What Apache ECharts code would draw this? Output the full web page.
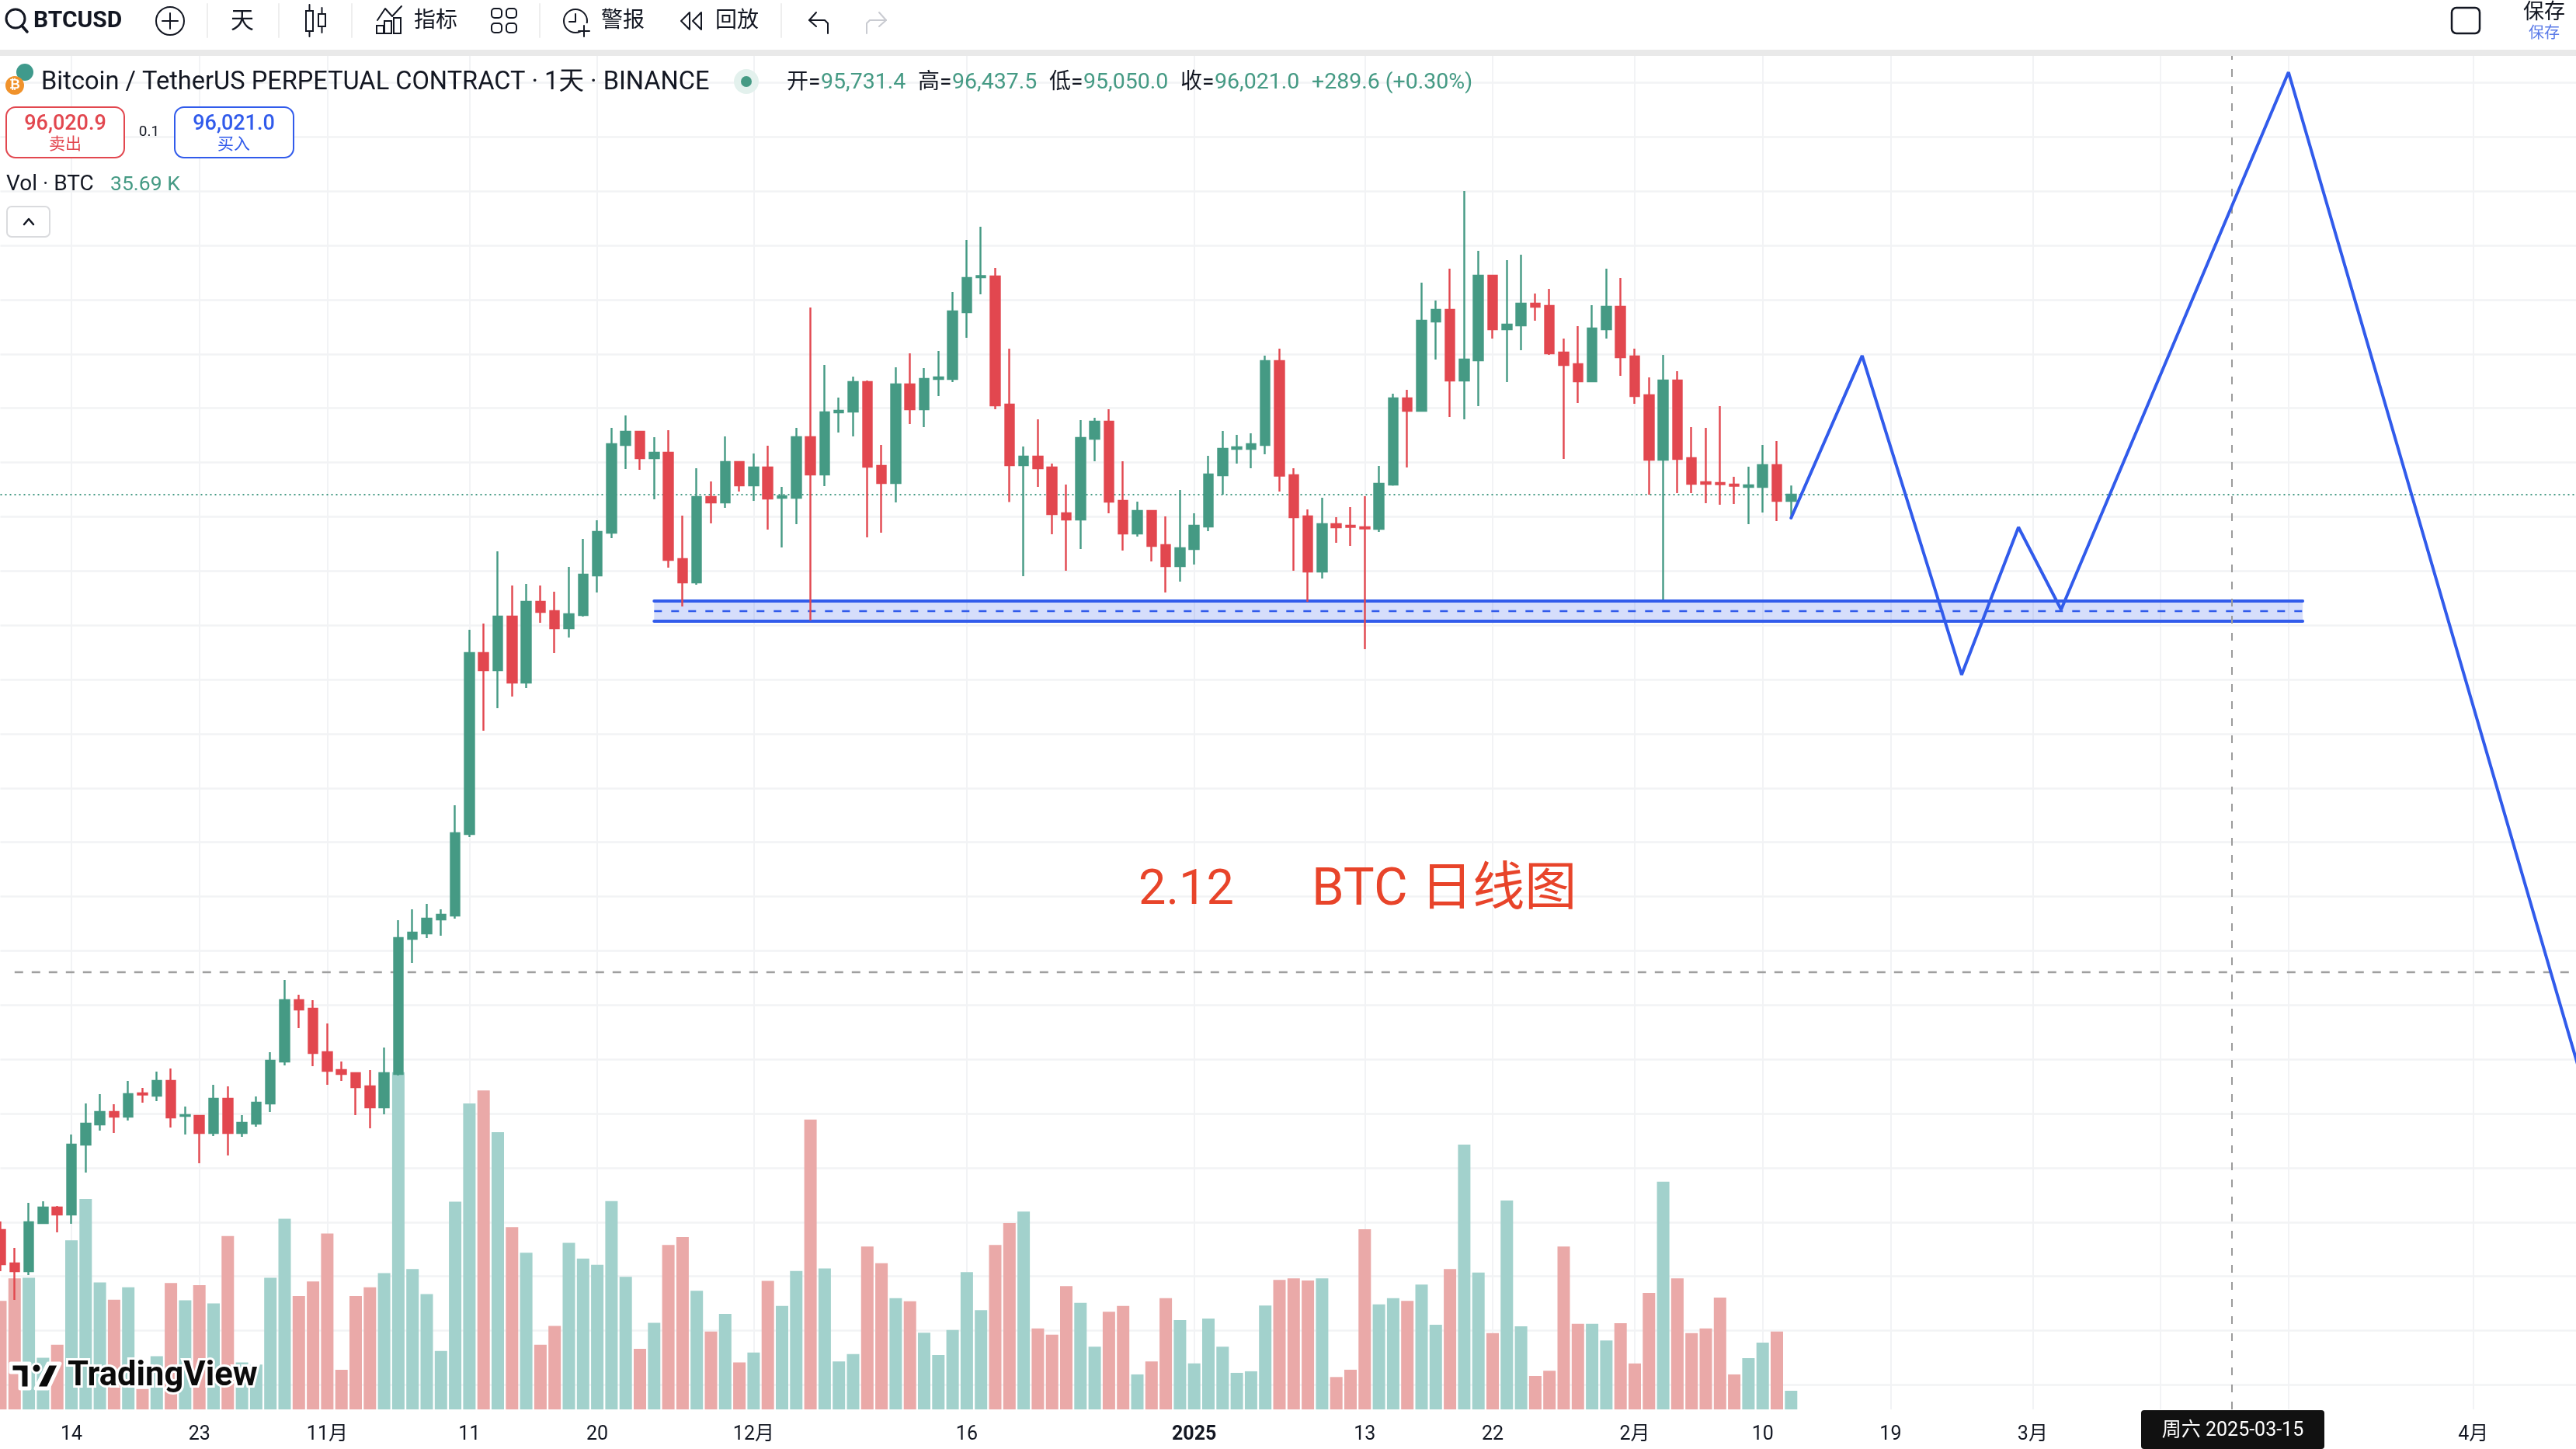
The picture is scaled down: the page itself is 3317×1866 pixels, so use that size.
<!DOCTYPE html>
<html><head><meta charset="utf-8"><title>BTC 日线图</title>
<style>html,body{margin:0;padding:0;background:#fff}#c{width:3317px;height:1866px}</style>
<script src="https://cdn.jsdelivr.net/npm/echarts@6/dist/echarts.min.js"></script></head>
<body><div id="c"></div>
<script>
// Daily candles from 2024-10-09: [open, close, low, high]
const candles = [
[62136,60562,60240,62530],[60598,60240,58916,61314],[60240,62494,60061,63389],[62459,63174,62459,63460],[63174,62852,62029,63246],
[62852,66072,62423,66537],[66072,67038,64784,67969],[67003,67575,66716,68398],[67575,67360,66609,67933],[67360,68398,67181,69006],
[68434,68380,68004,68684],[68326,69006,68076,69436],[69006,67325,66859,69579],[67396,67432,66537,67826],[67396,66609,65214,67432],
[66609,68183,66466,68827],[68183,66609,65571,68756],[66609,67074,66430,67432],[67038,68004,66895,68291],[67969,69937,67575,70330],
[69901,72727,69722,73658],[72727,72298,71439,72978],[72334,70294,69686,72727],[70330,69471,68827,71654],[69507,69328,69006,69901],
[69364,68720,67432,69400],[68756,67790,66824,69507],[67790,69364,67468,70545],[69328,75590,69257,76413],[75554,75840,74445,76914],
[75804,76484,75590,77164],[76448,76663,75697,76914],[76627,80420,76484,81708],[80384,88721,80241,89794],[88721,87934,85143,90081],
[87934,90403,86181,93408],[90403,87361,86717,91834],[87361,91082,87111,91905],[91082,90617,90116,91834],[90653,89866,88721,91548],
[89866,90510,89437,92693],[90474,92335,90403,93981],[92299,94303,91512,94839],[94267,98346,94016,99097],[98310,98918,97201,99670],
[98918,97702,97165,98918],[97702,97952,95805,98668],[97952,93015,92657,98990],[93051,91977,90868,95054],[91977,95913,91870,97237],
[95913,95662,94696,96628],[95662,97523,95412,98704],[97523,96450,96163,97523],[96450,97272,95734,97916],[97272,95841,94410,98274],
[95877,95949,93587,96378],[95877,98668,94661,99097],[98668,96950,90224,104643],[96950,99813,96414,101995],[99813,99884,98883,100493],
[99848,101208,98704,101459],[101208,97308,94052,101280],[97344,96557,94267,98310],[96557,101101,95662,101888],[101101,99956,99276,102532],
[99956,101351,99133,101852],[101351,101423,100564,102639],[101351,104464,101208,105359],[104428,106003,103248,107756],[106039,106092,105251,108364],
[106074,100135,99956,106468],[100171,97380,95680,102747],[97380,97773,92263,98239],[97773,97237,96378,99491],[97272,95126,94195,97451],
[95162,94875,92514,96485],[94875,98632,93516,99455],[98596,99383,97559,99562],[99383,95698,95162,99956],[95734,94231,93444,97559],
[94231,95269,94088,95698],[95269,93659,92943,95305],[93695,92728,91512,95018],[92728,93551,92013,96235],[93516,94589,92800,95162],
[94553,96950,94338,97809],[96914,98131,96021,98954],[98131,98203,97451,98775],[98131,98346,97237,98847],[98310,102174,97881,102425],
[102174,96896,96163,102747],[96914,94982,92514,97237],[95018,92478,91082,95340],[92478,94661,92156,95877],[94661,94517,93802,94982],
[94589,94535,93659,95448],[94517,94463,88900,95949],[94445,96521,94303,97344],[96485,100457,96432,100672],[100457,99884,97272,100850],
[99884,104035,99884,105788],[103999,104536,102246,104965],[104536,101280,99598,106432],[101280,102246,99491,110010],[102210,106110,100099,107255],
[106110,103641,103212,106110],[103641,103856,101208,106826],[103820,104822,102675,107076],[104822,104679,104035,105287],[104715,102532,102461,105502],
[102568,101995,97666,103212],[102031,101244,100242,103784],[101244,103677,101244,104750],[103641,104679,103212,106432],[104679,102353,101494,106003],
[102389,100564,100206,102747],[100600,97630,96021,101423],[97630,101280,91190,102461],[101280,97666,96092,101709],[97702,96521,96092,99133],
[96593,96521,95627,99097],[96557,96503,95555,100099],[96485,96432,95591,96843],[96378,96450,94661,97308],[96378,97380,95197,98310],
[97380,95731,94804,98489],[95731.4,96021,95050,96437.5]
];
// Volume in thousand BTC, same days
const volumes = [
208,251,252,99,124,324,403,243,210,234,39,102,242,209,238,203,332,90,86,252,365,217,245,337,76,217,234,261,646,269,221,112,398,586,611,531,349,300,124,160,
319,289,277,399,254,116,166,315,330,227,149,183,90,109,246,198,265,555,270,92,106,312,280,213,207,147,104,152,263,190,315,357,379,155,143,236,204,120,187,198,
67,92,213,171,88,174,120,70,73,199,248,251,247,251,62,76,345,201,213,208,239,162,269,507,262,146,400,159,64,74,312,164,164,132,165,88,223,436,251,146,155,214,67,98,128,149,35.69
];
const firstDay = '2024-10-09', lastDay = '2025-04-09';
const tickDates  = ['2024-10-14','2024-10-23','2024-11-01','2024-11-11','2024-11-20','2024-12-01','2024-12-16','2025-01-01','2025-01-13','2025-01-22','2025-02-01','2025-02-10','2025-02-19','2025-03-01','2025-03-10','2025-03-19','2025-04-01'];
const tickLabels = ['14','23','11月','11','20','12月','16','2025','13','22','2月','10','19','3月','10','19','4月'];
const projectionPath = [['2025-02-12',94947],['2025-02-17',102419],['2025-02-24',87719],['2025-02-28',94517],['2025-03-03',90725],['2025-03-19',115484],['2025-04-09',68291]];
const zoneDates = ['2024-11-24','2025-03-20'];
const zoneTop = 91118, zoneMid = 90653, zoneBottom = 90188;
const lastPrice = 96021.0;
const resistance = 74015, resistanceStart = '2024-10-10';
const crosshairDate = '2025-03-15';

const days = [];
for (let t = Date.parse(firstDay + 'T00:00:00Z'); t <= Date.parse(lastDay + 'T00:00:00Z'); t += 86400000) days.push(new Date(t).toISOString().slice(0, 10));

const UP = '#459A84', DOWN = '#E2474F', UPV = '#A2D1CC', DOWNV = '#EAA9A8', BLUE = '#315BEB', INK = '#131722', GRID = '#F2F3F5';
const FONT = 'Roboto, "Noto Sans CJK SC", sans-serif';
const band = 18.3, left = 0.5, gridW = band * (days.length - 1);
const isTick = (i, v) => tickDates.includes(v);

const vis = [];
const T = (text, x, y, size, fill, opt = {}) => vis.push({ type: 'text', z: 100, silent: true, style: { text, x, y, fill, font: `${opt.weight || 400} ${size}px ${FONT}`, textAlign: opt.align || 'left', textVerticalAlign: 'middle', stroke: opt.stroke, lineWidth: opt.lw || 0 } });
const R = (x, y, w, h, fill, stroke, lw, r) => vis.push({ type: 'rect', z: 99, silent: true, shape: { x, y, width: w, height: h, r: r || 0 }, style: { fill: fill || 'transparent', stroke, lineWidth: lw || 0 } });
const C = (cx, cy, r, fill, stroke, lw) => vis.push({ type: 'circle', z: 99, silent: true, shape: { cx, cy, r }, style: { fill: fill || 'transparent', stroke, lineWidth: lw || 0 } });
const P = (points, stroke, lw, fill) => vis.push({ type: fill ? 'polygon' : 'polyline', z: 100, silent: true, shape: { points }, style: { stroke, lineWidth: lw, fill: fill || 'transparent', lineCap: 'round', lineJoin: 'round' } });

// toolbar
R(0, 0, 3317, 64, '#fff');
R(0, 64, 3317, 8, '#E9E9E9');
C(20, 24, 12, null, INK, 3); P([[28, 33], [35, 41]], INK, 3.5);
T('BTCUSD', 43, 27, 30, INK, { weight: 700 });
C(219, 27, 18, null, INK, 2); P([[209, 27], [229, 27]], INK, 2); P([[219, 17], [219, 37]], INK, 2);
[267, 359, 453, 695, 1006].forEach(x => P([[x, 5], [x, 48]], '#EEEEEE', 2));
T('天', 312, 28, 30, INK, { align: 'center' });
R(394, 14, 9, 26, null, INK, 2); P([[398.5, 6], [398.5, 14]], INK, 2); P([[398.5, 40], [398.5, 47]], INK, 2);
R(410, 18, 9, 16, null, INK, 2); P([[414.5, 10], [414.5, 18]], INK, 2); P([[414.5, 34], [414.5, 42]], INK, 2);
P([[486, 26], [496, 11], [505, 21], [517, 8]], INK, 2);
R(485, 33, 9, 10, null, INK, 2); R(495, 27, 9, 16, null, INK, 2); R(507, 23, 9, 20, null, INK, 2);
T('指标', 533, 28, 28, INK);
[[633, 11], [652, 11], [633, 30], [652, 30]].forEach(p => R(p[0], p[1], 13, 12, null, INK, 2, 4));
C(741, 27, 15, null, INK, 2); P([[741, 18], [741, 28], [733, 28]], INK, 2);
R(748, 30, 14, 18, '#fff'); P([[752, 33], [752, 47]], INK, 2); P([[745, 40], [759, 40]], INK, 2);
T('警报', 774, 28, 28, INK);
P([[888, 16], [877, 27], [888, 38], [888, 16]], INK, 2); P([[903, 16], [892, 27], [903, 38], [903, 16]], INK, 2);
T('回放', 921, 28, 28, INK);
P([[1066, 43], [1066, 30], [1062, 26], [1042, 26], [1051, 16]], INK, 2); P([[1042, 26], [1051, 34]], INK, 2);
P([[1116, 43], [1116, 30], [1120, 26], [1141, 26], [1132, 16]], '#C9CBD1', 2); P([[1141, 26], [1132, 34]], '#C9CBD1', 2);
R(3157, 10, 36, 33, null, INK, 2.5, 6);
T('保存', 3276, 17, 27, INK, { align: 'center' });
T('保存', 3276, 44, 20, '#5B7BE8', { align: 'center' });

// symbol header
C(32, 93, 11, '#3F9A8C'); C(19, 110, 12, '#F0922B');
T('₿', 19, 110, 17, '#fff', { align: 'center', weight: 700 });
T('Bitcoin / TetherUS PERPETUAL CONTRACT · 1天 · BINANCE', 53, 107, 32.6, INK);
C(961, 105, 16, '#E3F1ED'); C(961, 105, 7, UP);
const ohlcLabels = [['开=', 1013], ['高=', 1182], ['低=', 1351], ['收=', 1520]];
const ohlcValues = [['95,731.4', 1057], ['96,437.5', 1226], ['95,050.0', 1395], ['96,021.0', 1564], ['+289.6 (+0.30%)', 1689]];
ohlcLabels.forEach(a => T(a[0], a[1], 107, 28, INK));
ohlcValues.forEach(a => T(a[0], a[1], 107, 28.5, UP));
R(8, 138, 152, 65, '#fff', DOWN, 2, 12);
T('96,020.9', 84, 160, 27, DOWN, { align: 'center', weight: 500 }); T('卖出', 84, 187, 21, DOWN, { align: 'center' });
T('0.1', 192, 170, 19, INK, { align: 'center' });
R(225, 138, 153, 65, '#fff', BLUE, 2, 12);
T('96,021.0', 301, 160, 27, BLUE, { align: 'center', weight: 500 }); T('买入', 301, 187, 21, BLUE, { align: 'center' });
T('Vol · BTC', 8, 238, 28, INK); T('35.69 K', 142, 238, 26.5, UP);
R(9, 266, 55, 39, '#fff', '#DADBDE', 2, 6);
P([[31, 289], [37, 282], [43, 289]], INK, 2.5);

// annotation
T('2.12', 1466, 1148, 63, '#E8442A');
T('BTC 日线图', 1689, 1148, 67, '#E8442A');

// watermark
P([[14, 1756], [38, 1756], [38, 1788], [26, 1788], [26, 1767], [14, 1767]], '#fff', 5, '#0B0B0B');
C(47, 1762, 6, '#0B0B0B', '#fff', 3);
P([[62, 1756], [77, 1756], [62, 1788], [46, 1788]], '#fff', 5, '#0B0B0B');
T('TradingView', 87, 1773, 43.5, '#0B0B0B', { weight: 700, stroke: '#fff', lw: 6 });

// crosshair date badge
R(2757, 1816, 236, 50, '#111111', null, 0, 4);
T('周六 2025-03-15', 2875, 1843, 25, '#fff', { align: 'center' });

const pair = (a, b, v) => [[a, v], [b, v]];
const chart = echarts.init(document.getElementById('c'), null, { width: 3317, height: 1866, renderer: 'canvas' });
chart.setOption({
  animation: false,
  backgroundColor: '#fff',
  textStyle: { fontFamily: FONT },
  grid: [
    { left, width: gridW, top: 36.6, height: 69.875 * 25, outerBoundsMode: 'none' },
    { left, width: gridW, top: 36.6, height: 1815 - 36.6, outerBoundsMode: 'none' }
  ],
  xAxis: [
    { type: 'category', gridIndex: 0, data: days, boundaryGap: false, axisLine: { show: false }, axisTick: { show: false }, axisLabel: { show: false }, splitLine: { show: false } },
    { type: 'category', gridIndex: 1, data: days, boundaryGap: false, axisLine: { show: false }, axisTick: { show: false },
      splitLine: { show: true, interval: isTick, lineStyle: { color: GRID, width: 2 } },
      axisLabel: { interval: isTick, margin: 20, fontSize: 25, color: INK, fontFamily: FONT, hideOverlap: false,
        formatter: v => { const s = tickLabels[tickDates.indexOf(v)]; return s === '2025' ? '{b|2025}' : s; },
        rich: { b: { fontWeight: 700, fontSize: 25, color: INK, fontFamily: FONT } } } }
  ],
  yAxis: [
    { type: 'value', gridIndex: 0, min: 55000, max: 117500, interval: 2500, scale: true, axisLine: { show: false }, axisTick: { show: false }, axisLabel: { show: false }, splitLine: { show: true, lineStyle: { color: GRID, width: 2.5 } } },
    { type: 'value', gridIndex: 1, min: 0, max: 2645, show: false, splitLine: { show: false } }
  ],
  series: [
    { type: 'bar', name: 'Vol', xAxisIndex: 1, yAxisIndex: 1, barWidth: 16, z: 1,
      data: volumes.map((v, i) => ({ value: v, itemStyle: { color: candles[i][1] >= candles[i][0] ? UPV : DOWNV } })) },
    { type: 'line', name: 'crosshair', xAxisIndex: 1, yAxisIndex: 1, data: [], z: 2,
      markLine: { silent: true, symbol: 'none', label: { show: false }, animation: false, lineStyle: { color: '#9B9B9B', type: [10, 12], width: 2 }, data: [{ xAxis: crosshairDate }] } },
    { type: 'line', name: 'resistance', data: pair(resistanceStart, lastDay, resistance), showSymbol: false, silent: true, z: 2, lineStyle: { color: '#9F9F9F', width: 2.5, type: [11, 11] } },
    { type: 'line', name: 'last', data: pair(firstDay, lastDay, lastPrice), showSymbol: false, silent: true, z: 2, lineStyle: { color: UP, width: 2, type: [2, 4] } },
    { type: 'line', name: 'zoneTop', data: pair(zoneDates[0], zoneDates[1], zoneTop), showSymbol: false, silent: true, z: 2, lineStyle: { color: BLUE, width: 4, cap: 'round' },
      markArea: { silent: true, itemStyle: { color: 'rgba(49,91,235,0.2)' }, data: [[{ coord: [zoneDates[0], zoneTop] }, { coord: [zoneDates[1], zoneBottom] }]] } },
    { type: 'line', name: 'zoneMid', data: pair(zoneDates[0], zoneDates[1], zoneMid), showSymbol: false, silent: true, z: 2, lineStyle: { color: BLUE, width: 2.5, type: [10, 12] } },
    { type: 'line', name: 'zoneBottom', data: pair(zoneDates[0], zoneDates[1], zoneBottom), showSymbol: false, silent: true, z: 2, lineStyle: { color: BLUE, width: 4, cap: 'round' } },
    { type: 'candlestick', name: 'BTCUSDT', barWidth: 12, z: 3, data: candles,
      itemStyle: { color: UP, color0: DOWN, borderColor: UP, borderColor0: DOWN, borderWidth: 2.4 } },
    { type: 'line', name: 'projection', data: projectionPath, showSymbol: false, silent: true, z: 5, lineStyle: { color: BLUE, width: 4, cap: 'round' } }
  ],
  graphic: { elements: vis }
});
</script></body></html>
